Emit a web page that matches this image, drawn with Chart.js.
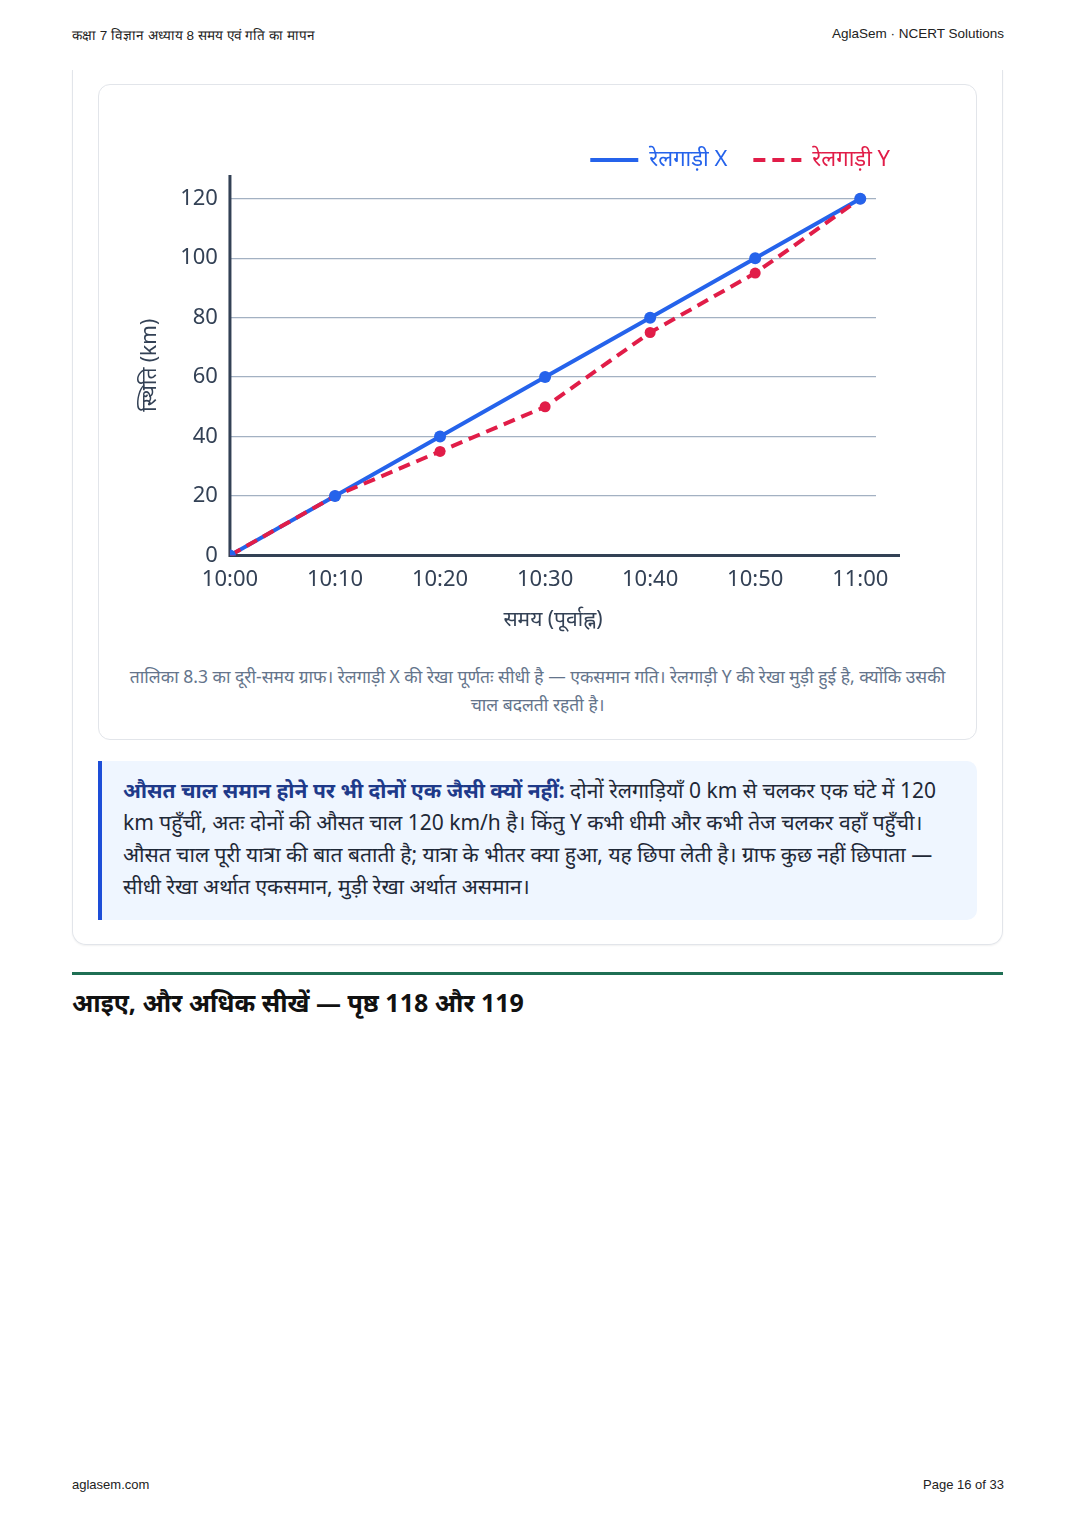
<!DOCTYPE html>
<html lang="hi">
<head>
<meta charset="utf-8">
<script src="https://cdn.jsdelivr.net/npm/chart.js@4/dist/chart.umd.min.js"></script>
<style>
  html, body { margin: 0; padding: 0; background: #fff; }
  body { width: 1076px; height: 1522px; position: relative; font-family: "Noto Sans", "Open Sans", sans-serif; color: #1f2937; }
  .hdr { position: absolute; top: 26px; font: 13.5px "Liberation Sans", Arial, sans-serif; color: #222; }
  .ftr { position: absolute; top: 1477px; font: 13px "Liberation Sans", Arial, sans-serif; color: #222; }
  .outer { position: absolute; left: 72px; top: 70px; width: 929px; height: 874px; border: 1px solid #e2e5ea; border-top: none; border-radius: 0 0 14px 14px; box-shadow: 0 1px 2px rgba(0,0,0,0.06); }
  .card { position: absolute; left: 98px; top: 84px; width: 877px; height: 654px; border: 1px solid #e2e5ea; border-radius: 12px; background: #fff; }
  .chartbox { position: absolute; left: 34px; top: 38px; width: 807px; height: 514px; }
  .caption { position: absolute; left: 22px; right: 22px; top: 577px; text-align: center; font-size: 17.5px; line-height: 28px; color: #64748b; }
  .note { position: absolute; left: 98px; top: 761px; width: 879px; height: 159px; background: #eff6ff; border-left: 4px solid #1d4ed8; border-radius: 0 10px 10px 0; padding: 13px 20px 0 21px; box-sizing: border-box; font-size: 21px; line-height: 32px; color: #1f2937; }
  .note b { color: #1e3a8a; }
  .rule { position: absolute; left: 72px; top: 972px; width: 931px; height: 3px; background: #1f6f54; }
  h2 { position: absolute; left: 72px; top: 985px; margin: 0; font-size: 25px; font-weight: 700; color: #111; }
</style>
</head>
<body>
<div class="hdr" style="left:72px">कक्षा 7 विज्ञान अध्याय 8 समय एवं गति का मापन</div>
<div class="hdr" style="right:72px">AglaSem · NCERT Solutions</div>

<div class="outer"></div>
<div class="card">
  <div class="chartbox"><canvas id="chart"></canvas></div>
  <div class="caption">तालिका 8.3 का दूरी-समय ग्राफ। रेलगाड़ी X की रेखा पूर्णतः सीधी है — एकसमान गति। रेलगाड़ी Y की रेखा मुड़ी हुई है, क्योंकि उसकी चाल बदलती रहती है।</div>
</div>
<div class="note"><b>औसत चाल समान होने पर भी दोनों एक जैसी क्यों नहीं:</b> दोनों रेलगाड़ियाँ 0 km से चलकर एक घंटे में 120 km पहुँचीं, अतः दोनों की औसत चाल 120 km/h है। किंतु Y कभी धीमी और कभी तेज चलकर वहाँ पहुँची। औसत चाल पूरी यात्रा की बात बताती है; यात्रा के भीतर क्या हुआ, यह छिपा लेती है। ग्राफ कुछ नहीं छिपाता — सीधी रेखा अर्थात एकसमान, मुड़ी रेखा अर्थात असमान।</div>
<div class="rule"></div>
<h2>आइए, और अधिक सीखें — पृष्ठ 118 और 119</h2>

<div class="ftr" style="left:72px">aglasem.com</div>
<div class="ftr" style="right:72px">Page 16 of 33</div>

<script>
// minutes after 10:00 and the clock label shown for each
const minutes = [0, 10, 20, 30, 40, 50, 60];
const timeLabels = ["10:00", "10:10", "10:20", "10:30", "10:40", "10:50", "11:00"];
// position in km
const trainX = [0, 20, 40, 60, 80, 100, 120];
const trainY = [0, 20, 35, 50, 75, 95, 120];

const BLUE = "#2563eb";
const RED = "#e11d48";
const AXIS = "#334155";
const FONT = "'Noto Sans', 'Open Sans', sans-serif";

// Axis lines drawn by hand (under the marks) so the x line can run past the grid.
const axisLines = {
  id: "axisLines",
  beforeDatasetsDraw(chart) {
    const { ctx, chartArea } = chart;
    const y0 = chart.scales.y.getPixelForValue(0);
    ctx.save();
    ctx.strokeStyle = AXIS;
    ctx.lineWidth = 3;
    ctx.beginPath();
    ctx.moveTo(chartArea.left, chartArea.top);
    ctx.lineTo(chartArea.left, y0);
    ctx.lineTo(chartArea.right + 24, y0);
    ctx.stroke();
    ctx.restore();
  },
};

const toPoints = (vals) => minutes.map((m, i) => ({ x: m, y: vals[i] }));
const tickFont = { family: FONT, size: 22 };
const titleFont = { family: FONT, size: 21 };

new Chart(document.getElementById("chart"), {
  type: "line",
  data: {
    datasets: [
      {
        // X line underneath everything
        label: "रेलगाड़ी X",
        data: toPoints(trainX),
        borderColor: BLUE,
        backgroundColor: BLUE,
        borderWidth: 4,
        pointRadius: 0,
        order: 3,
      },
      {
        label: "रेलगाड़ी Y",
        data: toPoints(trainY),
        borderColor: RED,
        backgroundColor: RED,
        borderWidth: 4,
        borderDash: [12, 7],
        pointRadius: 5.5,
        pointBorderWidth: 0,
        order: 2,
      },
      {
        // X markers drawn last so they sit on top of the red line
        label: "_xpoints",
        data: toPoints(trainX),
        showLine: false,
        backgroundColor: BLUE,
        borderColor: BLUE,
        pointRadius: 6,
        pointBorderWidth: 0,
        order: 1,
      },
    ],
  },
  options: {
    responsive: true,
    maintainAspectRatio: false,
    animation: false,
    layout: { padding: { right: 24 } },
    plugins: {
      tooltip: { enabled: false },
      legend: {
        align: "end",
        maxHeight: 52,
        labels: {
          usePointStyle: true,
          pointStyleWidth: 48,
          boxHeight: 22,
          padding: 26,
          font: { family: FONT, size: 22 },
          filter: (item) => !item.text.startsWith("_"),
          sort: (a, b) => a.datasetIndex - b.datasetIndex,
          // line samples with each label in its own line colour
          generateLabels(chart) {
            return Chart.defaults.plugins.legend.labels.generateLabels(chart).map((item) => {
              const ds = chart.data.datasets[item.datasetIndex];
              item.pointStyle = "line";
              item.strokeStyle = ds.borderColor;
              item.fontColor = ds.borderColor;
              item.lineWidth = 4;
              item.lineDash = ds.borderDash || [];
              return item;
            });
          },
        },
      },
    },
    scales: {
      x: {
        type: "linear",
        min: 0,
        max: 61.5,
        afterBuildTicks(scale) {
          scale.ticks = minutes.map((v) => ({ value: v }));
        },
        ticks: {
          callback: (v) => timeLabels[minutes.indexOf(v)],
          color: AXIS,
          font: tickFont,
          padding: 3,
          maxRotation: 0,
        },
        grid: { display: false },
        border: { display: false },
        title: { display: true, text: "समय (पूर्वाह्न)", color: AXIS, font: titleFont, padding: { top: 12 } },
      },
      y: {
        min: 0,
        max: 128,
        afterBuildTicks(scale) {
          scale.ticks = trainX.map((v) => ({ value: v }));
        },
        ticks: { color: AXIS, font: tickFont, padding: 12 },
        grid: {
          color: (c) => (c.tick && c.tick.value === 0 ? "rgba(0,0,0,0)" : "#a3b1c2"),
          lineWidth: 1.2,
          drawTicks: false,
        },
        border: { display: false },
        title: { display: true, text: "स्थिति (km)", color: AXIS, font: titleFont, padding: { bottom: 6 } },
      },
      // empty right-hand strip: keeps the plot narrow while the legend runs further right
      spacer: {
        type: "linear",
        position: "right",
        grid: { display: false },
        ticks: { display: false },
        border: { display: false },
        afterFit(scale) {
          scale.width = 40;
        },
      },
    },
  },
  plugins: [axisLines],
});
</script>
</body>
</html>
